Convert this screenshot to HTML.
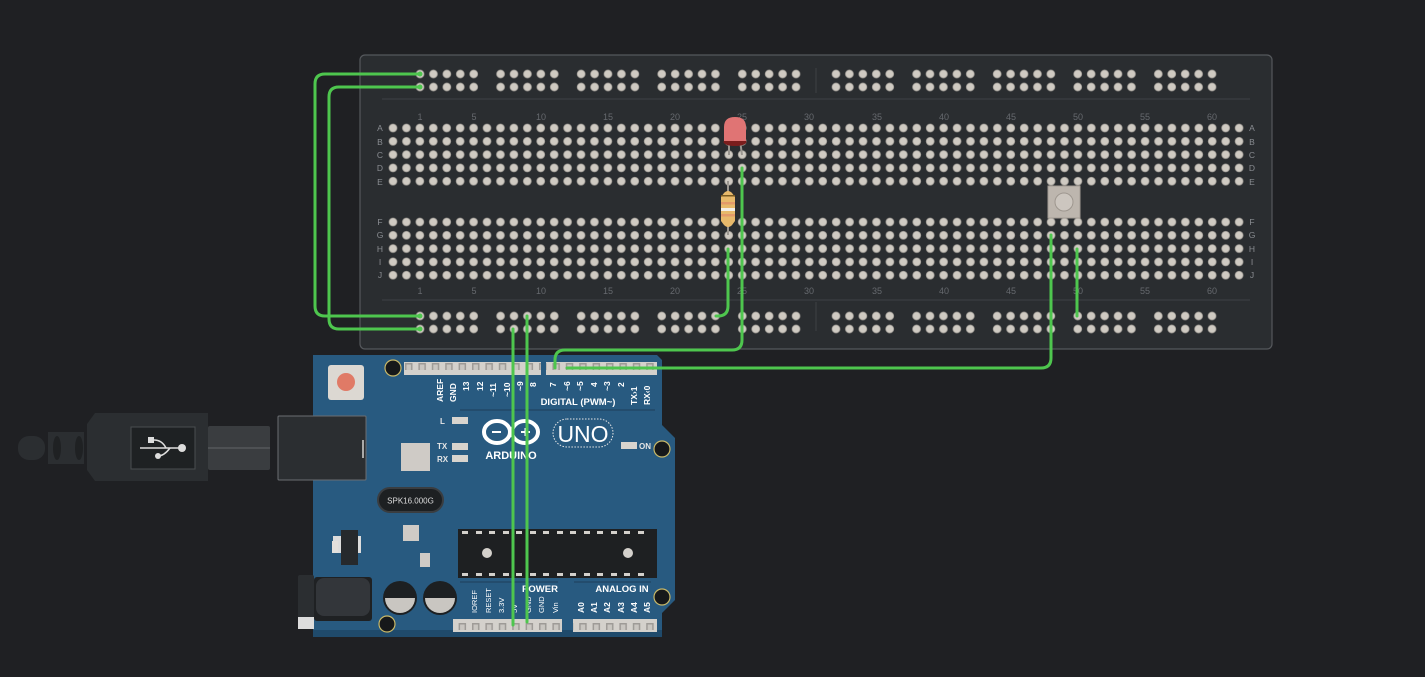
<!DOCTYPE html>
<html><head><meta charset="utf-8"><style>
html,body{margin:0;padding:0;background:#1f2023;width:1425px;height:677px;overflow:hidden}
svg{display:block}
text{font-family:"Liberation Sans",sans-serif}
</style></head><body>
<svg width="1425" height="677" viewBox="0 0 1425 677">
<defs>
<pattern id="gA" patternUnits="userSpaceOnUse" x="386.3" y="121.3" width="13.43" height="13.3"><circle cx="6.7" cy="6.7" r="4" fill="#cfcac2" stroke="#9e9a94" stroke-width="0.8"/></pattern>
<pattern id="gF" patternUnits="userSpaceOnUse" x="386.3" y="215.3" width="13.43" height="13.3"><circle cx="6.7" cy="6.7" r="4" fill="#cfcac2" stroke="#9e9a94" stroke-width="0.8"/></pattern>
<pattern id="rTL" patternUnits="userSpaceOnUse" x="413.3" y="67.3" width="13.43" height="13"><circle cx="6.7" cy="6.7" r="4" fill="#cfcac2" stroke="#9e9a94" stroke-width="0.8"/></pattern>
<pattern id="rTR" patternUnits="userSpaceOnUse" x="829.3" y="67.3" width="13.43" height="13"><circle cx="6.7" cy="6.7" r="4" fill="#cfcac2" stroke="#9e9a94" stroke-width="0.8"/></pattern>
<pattern id="rBL" patternUnits="userSpaceOnUse" x="413.3" y="309.3" width="13.43" height="13"><circle cx="6.7" cy="6.7" r="4" fill="#cfcac2" stroke="#9e9a94" stroke-width="0.8"/></pattern>
<pattern id="rBR" patternUnits="userSpaceOnUse" x="829.3" y="309.3" width="13.43" height="13"><circle cx="6.7" cy="6.7" r="4" fill="#cfcac2" stroke="#9e9a94" stroke-width="0.8"/></pattern>
<pattern id="hdr" patternUnits="userSpaceOnUse" x="0" y="0" width="13.4" height="20"><rect x="3" y="3" width="7.5" height="7" fill="#9e9b97"/><rect x="4.5" y="4.5" width="4.5" height="5.5" fill="#c9c6c1"/></pattern>
</defs>

<!-- breadboard -->
<rect x="360" y="55" width="912" height="294" rx="5" fill="#2a2d30" stroke="#55585c" stroke-width="1.2"/>
<line x1="382" y1="99" x2="1250" y2="99" stroke="#3b3e42" stroke-width="1.2"/>
<line x1="382" y1="300" x2="1250" y2="300" stroke="#3b3e42" stroke-width="1.2"/>
<line x1="816" y1="68" x2="816" y2="93" stroke="#3b3e42" stroke-width="1.2"/>
<line x1="816" y1="302" x2="816" y2="331" stroke="#3b3e42" stroke-width="1.2"/>

<rect x="386.3" y="121.3" width="859.5" height="66.5" fill="url(#gA)"/>
<rect x="386.3" y="215.3" width="859.5" height="66.5" fill="url(#gF)"/>
<g>
<rect x="413.3" y="67.3" width="67.2" height="26" fill="url(#rTL)"/>
<rect x="493.9" y="67.3" width="67.2" height="26" fill="url(#rTL)"/>
<rect x="574.5" y="67.3" width="67.2" height="26" fill="url(#rTL)"/>
<rect x="655.1" y="67.3" width="67.2" height="26" fill="url(#rTL)"/>
<rect x="735.7" y="67.3" width="67.2" height="26" fill="url(#rTL)"/>
<rect x="829.3" y="67.3" width="67.2" height="26" fill="url(#rTR)"/>
<rect x="909.9" y="67.3" width="67.2" height="26" fill="url(#rTR)"/>
<rect x="990.5" y="67.3" width="67.2" height="26" fill="url(#rTR)"/>
<rect x="1071.1" y="67.3" width="67.2" height="26" fill="url(#rTR)"/>
<rect x="1151.7" y="67.3" width="67.2" height="26" fill="url(#rTR)"/>
<rect x="413.3" y="309.3" width="67.2" height="26" fill="url(#rBL)"/>
<rect x="493.9" y="309.3" width="67.2" height="26" fill="url(#rBL)"/>
<rect x="574.5" y="309.3" width="67.2" height="26" fill="url(#rBL)"/>
<rect x="655.1" y="309.3" width="67.2" height="26" fill="url(#rBL)"/>
<rect x="735.7" y="309.3" width="67.2" height="26" fill="url(#rBL)"/>
<rect x="829.3" y="309.3" width="67.2" height="26" fill="url(#rBR)"/>
<rect x="909.9" y="309.3" width="67.2" height="26" fill="url(#rBR)"/>
<rect x="990.5" y="309.3" width="67.2" height="26" fill="url(#rBR)"/>
<rect x="1071.1" y="309.3" width="67.2" height="26" fill="url(#rBR)"/>
<rect x="1151.7" y="309.3" width="67.2" height="26" fill="url(#rBR)"/>
</g>

<g fill="#66696e" font-size="9" text-anchor="middle">
<text x="420" y="120">1</text><text x="474" y="120">5</text><text x="541" y="120">10</text><text x="608" y="120">15</text><text x="675" y="120">20</text><text x="742" y="120">25</text><text x="809" y="120">30</text><text x="877" y="120">35</text><text x="944" y="120">40</text><text x="1011" y="120">45</text><text x="1078" y="120">50</text><text x="1145" y="120">55</text><text x="1212" y="120">60</text>
<text x="420" y="294">1</text><text x="474" y="294">5</text><text x="541" y="294">10</text><text x="608" y="294">15</text><text x="675" y="294">20</text><text x="742" y="294">25</text><text x="809" y="294">30</text><text x="877" y="294">35</text><text x="944" y="294">40</text><text x="1011" y="294">45</text><text x="1078" y="294">50</text><text x="1145" y="294">55</text><text x="1212" y="294">60</text>
</g>
<g fill="#8a8d92" font-size="8.5" text-anchor="middle">
<text x="380" y="131">A</text><text x="380" y="145">B</text><text x="380" y="158">C</text><text x="380" y="171">D</text><text x="380" y="185">E</text>
<text x="380" y="225">F</text><text x="380" y="238">G</text><text x="380" y="252">H</text><text x="380" y="265">I</text><text x="380" y="278">J</text>
<text x="1252" y="131">A</text><text x="1252" y="145">B</text><text x="1252" y="158">C</text><text x="1252" y="171">D</text><text x="1252" y="185">E</text>
<text x="1252" y="225">F</text><text x="1252" y="238">G</text><text x="1252" y="252">H</text><text x="1252" y="265">I</text><text x="1252" y="278">J</text>
</g>

<!-- LED -->
<line x1="729" y1="140" x2="729" y2="155" stroke="#9a9690" stroke-width="2"/>
<line x1="740" y1="140" x2="742" y2="155" stroke="#9a9690" stroke-width="2"/>
<ellipse cx="735" cy="142" rx="11.5" ry="4" fill="#7a1d1d"/>
<path d="M724 141 V127 Q724 117 735 117 Q746 117 746 127 V141 Z" fill="#e07474"/>
<!-- resistor -->
<line x1="728" y1="181" x2="728" y2="235" stroke="#9a9690" stroke-width="2"/>
<path d="M724 193 Q728 189 732 193 L735 197 V221 L732 225 Q728 229 724 225 L721 221 V197 Z" fill="#e7b96b"/>
<rect x="721" y="195" width="14" height="1.5" fill="#7a5a20"/>
<rect x="721" y="202" width="14" height="2.5" fill="#e39a6a"/>
<rect x="721" y="208" width="14" height="3" fill="#f3efe8"/>
<rect x="721" y="214" width="14" height="2.5" fill="#e39a6a"/>
<!-- pushbutton -->
<rect x="1048" y="186" width="32" height="32" fill="#bdb6ae" stroke="#a39c94"/>
<circle cx="1064" cy="202" r="9" fill="#ccc6bf" stroke="#9e978f"/>

<!-- Arduino -->
<path d="M313 355 H657 L662 360 V425 L675 438 V600 L662 613 V637 H313 Z" fill="#285a80"/>
<path d="M313 630 H662 V637 H313 Z" fill="#1f4a6b"/>
<!-- headers -->
<rect x="404" y="362" width="137" height="13" fill="#d4d1cc"/>
<rect x="404" y="362" width="137" height="13" fill="url(#hdr)"/>
<rect x="546" y="362" width="111" height="13" fill="#d4d1cc"/>
<rect x="546" y="362" width="111" height="13" fill="url(#hdr)"/>
<rect x="453" y="619" width="109" height="13" fill="#d4d1cc"/>
<rect x="453" y="619" width="109" height="13" fill="url(#hdr)"/>
<rect x="573" y="619" width="84" height="13" fill="#d4d1cc"/>
<rect x="573" y="619" width="84" height="13" fill="url(#hdr)"/>
<!-- mounting holes -->
<g fill="#16181a" stroke="#c8b868" stroke-width="1.2">
<circle cx="393" cy="368" r="8"/><circle cx="662" cy="449" r="8"/><circle cx="387" cy="624" r="8"/><circle cx="662" cy="597" r="8"/>
</g>
<!-- reset -->
<rect x="328" y="365" width="36" height="35" rx="3" fill="#dcd8d2"/>
<circle cx="346" cy="382" r="9" fill="#e07a66"/>
<!-- USB jack -->
<rect x="278" y="416" width="88" height="64" rx="1" fill="#2b2e31" stroke="#6b6e72"/>
<rect x="362" y="440" width="2" height="18" fill="#a9a9a9"/>
<!-- USB cable -->
<rect x="208" y="426" width="62" height="44" rx="2" fill="#3a3d40"/>
<line x1="208" y1="448" x2="270" y2="448" stroke="#55585b" stroke-width="1.5"/>
<path d="M87 424 L95 413 H208 V481 H95 L87 470 Z" fill="#2b2e31"/>
<rect x="131" y="427" width="64" height="42" fill="#1e2123" stroke="#4a4d50"/>
<path d="M140 448 H182" stroke="#ddd" stroke-width="1.5"/><circle cx="182" cy="448" r="4" fill="#ddd"/>
<rect x="148" y="437" width="6" height="6" fill="#ddd"/><circle cx="158" cy="456" r="3" fill="#ddd"/>
<path d="M154 440 Q162 440 166 448 M158 456 Q164 456 170 448" stroke="#ddd" stroke-width="1.5" fill="none"/>
<rect x="48" y="432" width="36" height="32" fill="#2b2e31"/>
<ellipse cx="57" cy="448" rx="4" ry="12" fill="#1f2123"/><ellipse cx="79" cy="448" rx="4" ry="12" fill="#1f2123"/>
<rect x="18" y="436" width="27" height="24" rx="11" fill="#2b2e31"/>
<!-- power jack -->
<rect x="298" y="575" width="16" height="54" rx="2" fill="#2b2e31"/>
<rect x="298" y="617" width="16" height="12" fill="#ddd"/>
<rect x="314" y="577" width="58" height="44" rx="3" fill="#1f2123"/>
<rect x="316" y="578" width="54" height="38" rx="8" fill="#33363a"/>
<!-- regulator -->
<rect x="333" y="536" width="28" height="17" fill="#ddd"/>
<rect x="341" y="530" width="17" height="35" fill="#26292c"/>
<rect x="332" y="541" width="6" height="12" fill="#e3e0dc"/>
<!-- caps -->
<circle cx="400" cy="598" r="17" fill="#1d2022"/><path d="M385 598 A15 15 0 0 0 415 598 Z" fill="#c9c6c1"/>
<circle cx="440" cy="598" r="17" fill="#1d2022"/><path d="M425 598 A15 15 0 0 0 455 598 Z" fill="#c9c6c1"/>
<!-- crystal -->
<rect x="378" y="488" width="65" height="24" rx="12" fill="#1d2022" stroke="#3a3d40" stroke-width="2"/>
<text x="410.5" y="503.5" fill="#ddd" font-size="8" text-anchor="middle">SPK16.000G</text>
<!-- chips -->
<rect x="401" y="443" width="29" height="28" fill="#cfcbc6"/>
<rect x="403" y="525" width="16" height="16" fill="#cfcbc6"/>
<rect x="420" y="553" width="10" height="14" fill="#cfcbc6"/>
<rect x="458" y="529" width="199" height="49" fill="#1e2022"/>
<g fill="#d4d1cc"><rect x="462" y="531" width="6" height="3"/><rect x="476" y="531" width="6" height="3"/><rect x="489" y="531" width="6" height="3"/><rect x="503" y="531" width="6" height="3"/><rect x="516" y="531" width="6" height="3"/><rect x="530" y="531" width="6" height="3"/><rect x="543" y="531" width="6" height="3"/><rect x="557" y="531" width="6" height="3"/><rect x="570" y="531" width="6" height="3"/><rect x="584" y="531" width="6" height="3"/><rect x="597" y="531" width="6" height="3"/><rect x="611" y="531" width="6" height="3"/><rect x="624" y="531" width="6" height="3"/><rect x="638" y="531" width="6" height="3"/>
<rect x="462" y="573" width="6" height="3"/><rect x="476" y="573" width="6" height="3"/><rect x="489" y="573" width="6" height="3"/><rect x="503" y="573" width="6" height="3"/><rect x="516" y="573" width="6" height="3"/><rect x="530" y="573" width="6" height="3"/><rect x="543" y="573" width="6" height="3"/><rect x="557" y="573" width="6" height="3"/><rect x="570" y="573" width="6" height="3"/><rect x="584" y="573" width="6" height="3"/><rect x="597" y="573" width="6" height="3"/><rect x="611" y="573" width="6" height="3"/><rect x="624" y="573" width="6" height="3"/><rect x="638" y="573" width="6" height="3"/></g>
<circle cx="487" cy="553" r="5" fill="#d4d1cc"/><circle cx="628" cy="553" r="5" fill="#d4d1cc"/>
<line x1="460" y1="582" x2="558" y2="582" stroke="#1e3f5a"/><line x1="574" y1="582" x2="651" y2="582" stroke="#1e3f5a"/>
<line x1="460" y1="410" x2="655" y2="410" stroke="#1e3f5a"/>
<!-- LEDs -->
<g fill="#d8d4ce"><rect x="452" y="417" width="16" height="7"/><rect x="452" y="443" width="16" height="7"/><rect x="452" y="455" width="16" height="7"/><rect x="621" y="442" width="16" height="7"/></g>
<g fill="#e6e6e6" font-size="8" font-weight="bold">
<text x="440" y="424">L</text><text x="437" y="449">TX</text><text x="437" y="462">RX</text><text x="639" y="449">ON</text>
</g>
<!-- logo -->
<g stroke="#ffffff" stroke-width="4" fill="none">
<ellipse cx="497" cy="432" rx="13" ry="11"/><ellipse cx="525" cy="432" rx="13" ry="11"/>
</g>
<g stroke="#ffffff" stroke-width="2"><line x1="492" y1="432" x2="501" y2="432"/><line x1="521" y1="432" x2="530" y2="432"/><line x1="525.5" y1="428" x2="525.5" y2="436"/></g>
<text x="511" y="459" fill="#fff" font-size="11" font-weight="bold" text-anchor="middle">ARDUINO</text>
<rect x="553" y="419" width="60" height="28" rx="14" fill="none" stroke="#e6e6e6" stroke-dasharray="1.5 1.5"/>
<text x="583" y="442" fill="#fff" font-size="23" text-anchor="middle">UNO</text>
<text x="578" y="405" fill="#fff" font-size="9.5" font-weight="bold" text-anchor="middle">DIGITAL (PWM~)</text>
<text x="540" y="592" fill="#fff" font-size="9.5" font-weight="bold" text-anchor="middle">POWER</text>
<text x="622" y="592" fill="#fff" font-size="9.5" font-weight="bold" text-anchor="middle">ANALOG IN</text>
<g fill="#fff" font-size="8.5" font-weight="bold">
<text transform="translate(443,402) rotate(-90)">AREF</text>
<text transform="translate(456,402) rotate(-90)">GND</text>
<text transform="translate(469,391) rotate(-90)">13</text>
<text transform="translate(483,391) rotate(-90)">12</text>
<text transform="translate(496,397) rotate(-90)">~11</text>
<text transform="translate(510,397) rotate(-90)">~10</text>
<text transform="translate(523,391) rotate(-90)">~9</text>
<text transform="translate(536,387) rotate(-90)">8</text>
<text transform="translate(556,387) rotate(-90)">7</text>
<text transform="translate(570,391) rotate(-90)">~6</text>
<text transform="translate(583,391) rotate(-90)">~5</text>
<text transform="translate(597,387) rotate(-90)">4</text>
<text transform="translate(610,391) rotate(-90)">~3</text>
<text transform="translate(624,387) rotate(-90)">2</text>
<text transform="translate(637,405) rotate(-90)">TX›1</text>
<text transform="translate(650,405) rotate(-90)">RX‹0</text>
</g>
<g fill="#fff" font-size="7.5">
<text transform="translate(477,613) rotate(-90)">IOREF</text>
<text transform="translate(491,613) rotate(-90)">RESET</text>
<text transform="translate(504,613) rotate(-90)">3.3V</text>
<text transform="translate(517,613) rotate(-90)">5V</text>
<text transform="translate(531,613) rotate(-90)">GND</text>
<text transform="translate(544,613) rotate(-90)">GND</text>
<text transform="translate(558,613) rotate(-90)">Vin</text>
</g>
<g fill="#fff" font-size="8.5" font-weight="bold">
<text transform="translate(584,613) rotate(-90)">A0</text>
<text transform="translate(597,613) rotate(-90)">A1</text>
<text transform="translate(610,613) rotate(-90)">A2</text>
<text transform="translate(624,613) rotate(-90)">A3</text>
<text transform="translate(637,613) rotate(-90)">A4</text>
<text transform="translate(650,613) rotate(-90)">A5</text>
</g>

<!-- wires -->
<g stroke="#4ec64e" stroke-width="3" fill="none" stroke-linecap="round">
<path d="M420 74 H325 Q315 74 315 84 V306 Q315 316 325 316 H420"/>
<path d="M420 87 H339 Q329 87 329 97 V319 Q329 329 339 329 H420"/>
<path d="M728 249 V306 Q728 316 718 316 H716"/>
<path d="M742 168 V340 Q742 350 732 350 H565 Q555 350 555 360 V368"/>
<path d="M1051 235 V358 Q1051 368 1041 368 H567"/>
<path d="M1077 249 V316"/>
<path d="M513 329 V625"/>
<path d="M527 316 V622"/>
</g>
<g fill="#4ec64e">
<circle cx="420" cy="74" r="2.5"/><circle cx="420" cy="87" r="2.5"/><circle cx="420" cy="316" r="2.5"/><circle cx="420" cy="329" r="2.5"/>
</g>
</svg>
</body></html>
